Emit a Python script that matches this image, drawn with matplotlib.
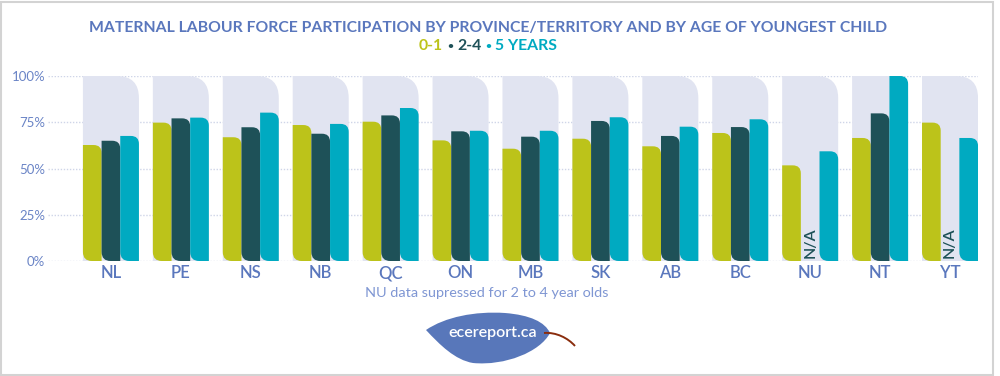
import matplotlib
matplotlib.use('Agg')
import matplotlib.pyplot as plt
from matplotlib.path import Path
from matplotlib.patches import PathPatch, Rectangle
import numpy as np

# data (% of mothers in labour force)
provinces = ['NL', 'PE', 'NS', 'NB', 'QC', 'ON', 'MB', 'SK', 'AB', 'BC', 'NU', 'NT', 'YT']
age_0_1 = [62.7, 74.8, 66.9, 73.5, 75.3, 65.2, 60.7, 66.1, 62.0, 69.2, 51.7, 66.5, 74.8]
age_2_4 = [65.0, 77.1, 72.3, 68.8, 78.7, 70.1, 67.2, 75.7, 67.6, 72.4, None, 79.8, None]
age_5 = [67.6, 77.5, 80.2, 74.1, 82.7, 70.4, 70.4, 77.7, 72.6, 76.6, 59.3, 100.0, 66.5]
yticks = [0, 25, 50, 75, 100]
ytick_labels = ['0%', '25%', '50%', '75%', '100%']
note = 'NU data supressed for 2 to 4 year olds'

c_yellow = '#bcc31a'
c_dark = '#1e5158'
c_teal = '#00aac1'
c_back = '#e1e4f1'
c_blue = '#5a77bd'

W, H = 1000, 376
fig = plt.figure(figsize=(W / 100, H / 100), dpi=100)
fig.patch.set_facecolor('white')

# axes placed in pixel terms
ax_l, ax_r, ax_t, ax_b = 48, 978, 76, 261
ax = fig.add_axes([ax_l / W, 1 - ax_b / H, (ax_r - ax_l) / W, (ax_b - ax_t) / H])
xlim = (-0.9, 12.4)
ax.set_xlim(*xlim)
ax.set_ylim(0, 100)
px_x = (xlim[1] - xlim[0]) / (ax_r - ax_l)   # data units per pixel
px_y = 100 / (ax_b - ax_t)


def rounded(x0, w, h, r_tr, r_bl):
    # rectangle with rounded top-right and bottom-left corners (radii in px)
    rx, ry = r_tr * px_x, r_tr * px_y
    bx, by = r_bl * px_x, r_bl * px_y
    ry = min(ry, h / 2)
    by = min(by, h / 2)
    verts = [(x0 + bx, 0), (x0 + w, 0), (x0 + w, h - ry), (x0 + w, h), (x0 + w - rx, h),
             (x0, h), (x0, by), (x0, 0), (x0 + bx, 0), (x0 + bx, 0)]
    codes = [Path.MOVETO, Path.LINETO, Path.LINETO, Path.CURVE3, Path.CURVE3,
             Path.LINETO, Path.LINETO, Path.CURVE3, Path.CURVE3, Path.CLOSEPOLY]
    return Path(verts, codes)


def round_bars(bars, r_tr, r_bl, z):
    for rect in bars:
        p = rounded(rect.get_x(), rect.get_width(), rect.get_height(), r_tr, r_bl)
        ax.add_patch(PathPatch(p, facecolor=rect.get_facecolor(), edgecolor='none', zorder=z))
        rect.remove()


x = np.arange(len(provinces))
bw = 0.267

back = ax.bar(x, [100] * len(x), width=3 * bw, color=c_back)
round_bars(back, 22, 0, 1)

series = [(age_0_1, c_yellow, -bw), (age_2_4, c_dark, 0), (age_5, c_teal, bw)]
for vals, col, off in series:
    xs = [xi + off for xi, v in zip(x, vals) if v is not None]
    vs = [v for v in vals if v is not None]
    bars = ax.bar(xs, vs, width=bw, color=col)
    round_bars(bars, 8, 9, 3)

for xi, v in zip(x, age_2_4):
    if v is None:
        ax.text(xi, 1.5, 'N/A', rotation=90, ha='center', va='bottom', fontsize=11.5,
                color=c_dark, family='Lato', fontweight='semibold', zorder=4)

for yv in yticks:
    ax.axhline(yv, color='#cfd5e8', lw=1, ls=(0, (1, 1.2)), zorder=0)

ax.set_yticks(yticks)
ax.set_yticklabels(ytick_labels)
ax.set_xticks(x)
ax.set_xticklabels(provinces)
ax.tick_params(length=0)
ax.tick_params(axis='y', pad=2, labelsize=9.5, labelcolor='#6a84c6')
ax.tick_params(axis='x', pad=3, labelsize=12, labelcolor=c_blue)
for lab in ax.get_yticklabels() + ax.get_xticklabels():
    lab.set_family('Lato')
for lab in ax.get_xticklabels():
    lab.set_fontweight('semibold')
for s in ax.spines.values():
    s.set_visible(False)

# title and coloured subtitle
fig.text(488 / W, 1 - 28 / H, 'MATERNAL LABOUR FORCE PARTICIPATION BY PROVINCE/TERRITORY AND BY AGE OF YOUNGEST CHILD',
         ha='center', va='center', fontsize=11.3, fontweight='bold', color=c_blue, family='Lato')

parts = [('0-1', c_yellow, 11.3), ('\u2009', c_dark, 11.3), ('\u2022', c_dark, 7.5), ('\u2009', c_dark, 11.3),
         ('2-4', c_dark, 11.3), ('\u2009', c_teal, 11.3), ('\u2022', c_teal, 7.5), ('\u2009', c_teal, 11.3),
         ('5 YEARS', c_teal, 11.3)]
texts = [fig.text(0, 1 - 46 / H, s, ha='left', va='center', fontsize=fs, fontweight='bold',
                  color=c, family=['Lato', 'DejaVu Sans']) for s, c, fs in parts]
r = fig.canvas.get_renderer()
widths = []
for t, (s, c, fs) in zip(texts, parts):
    if s == '\u2009':
        widths.append(4.0)
    else:
        widths.append(t.get_window_extent(r).width)
pos = 488 - sum(widths) / 2
for t, w in zip(texts, widths):
    t.set_x(pos / W)
    pos += w

fig.text(487 / W, 1 - 293 / H, note, ha='center', va='center', fontsize=10.4,
         color='#7f96d3', family='Lato')

# leaf logo
lax = fig.add_axes([0, 0, 1, 1], zorder=-1)
lax.set_xlim(0, W)
lax.set_ylim(H, 0)
lax.axis('off')
leaf = Path([(426, 330), (445, 317), (475, 311), (505, 313),
             (530, 315), (545, 322), (550, 333),
             (540, 352), (505, 366), (473, 363),
             (455, 360), (440, 345), (426, 330), (426, 330)],
            [Path.MOVETO, Path.CURVE4, Path.CURVE4, Path.CURVE4,
             Path.CURVE4, Path.CURVE4, Path.CURVE4,
             Path.CURVE4, Path.CURVE4, Path.CURVE4,
             Path.CURVE4, Path.CURVE4, Path.CURVE4, Path.CLOSEPOLY])
lax.add_patch(PathPatch(leaf, facecolor='#5877ba', edgecolor='none'))
stem = Path([(544, 333), (556, 332), (568, 338), (575, 346)],
            [Path.MOVETO, Path.CURVE4, Path.CURVE4, Path.CURVE4])
lax.add_patch(PathPatch(stem, facecolor='none', edgecolor='#8a2d0d', lw=1.4))
lax.text(493, 333, 'ecereport.ca', ha='center', va='center', fontsize=11.5,
         color='white', family='Lato', fontweight='semibold')

# thin grey frame
fig.patches.append(Rectangle((1 / W, 1 / H), 992 / W, 373 / H, transform=fig.transFigure,
                             facecolor='none', edgecolor='#d3d3d3', lw=1.5))

fig.savefig('out.png', dpi=100)
